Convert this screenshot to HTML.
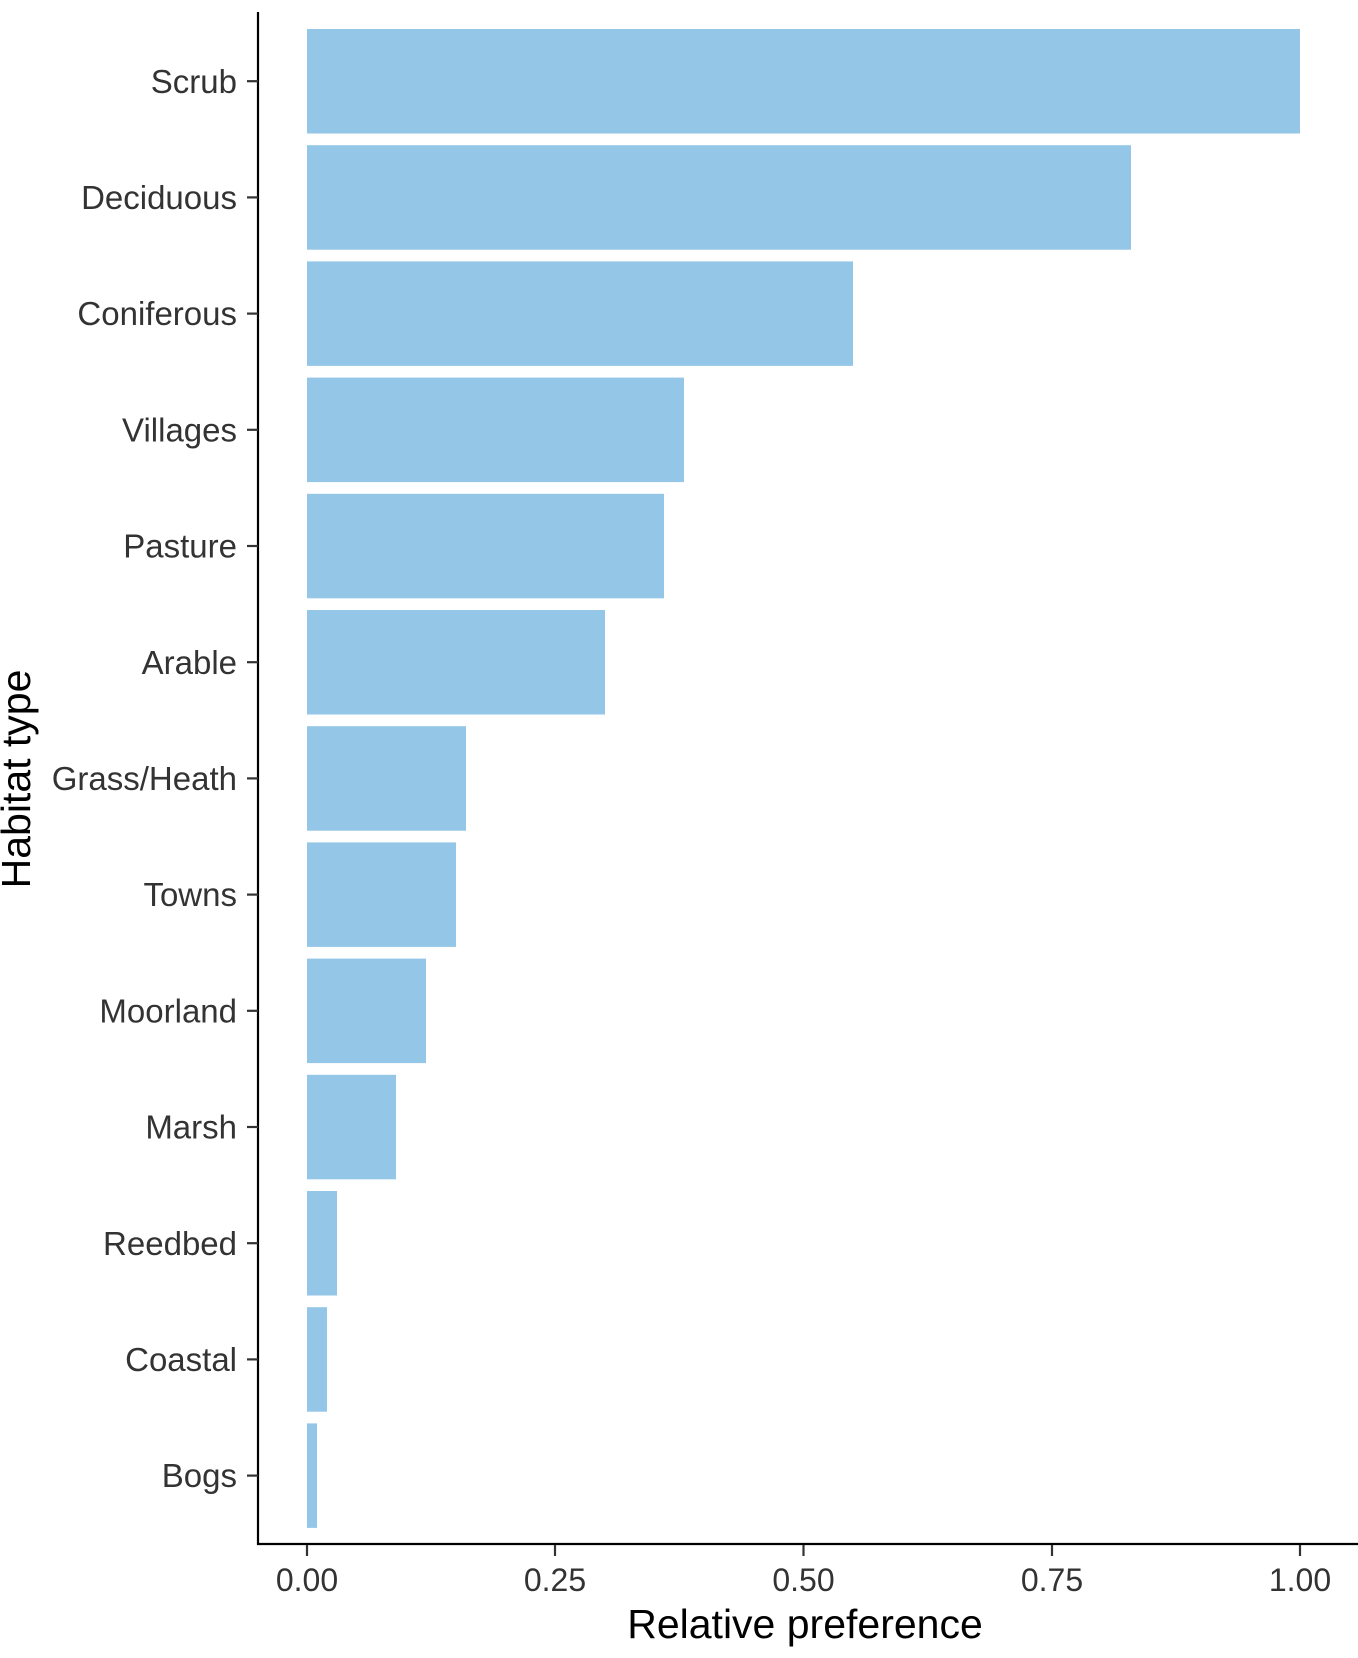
<!DOCTYPE html>
<html><head><meta charset="utf-8"><style>body{margin:0;background:#fff}</style></head><body>
<svg width="1358" height="1653" xmlns="http://www.w3.org/2000/svg" font-family="Liberation Sans, sans-serif">
<rect width="1358" height="1653" fill="#fff"/>
<g fill="#93C6E7">
<rect x="307" y="29" width="993" height="104.5"/>
<rect x="307" y="145.2" width="824" height="104.5"/>
<rect x="307" y="261.4" width="546" height="104.5"/>
<rect x="307" y="377.6" width="377" height="104.5"/>
<rect x="307" y="493.8" width="357" height="104.5"/>
<rect x="307" y="610" width="298" height="104.5"/>
<rect x="307" y="726.2" width="159" height="104.5"/>
<rect x="307" y="842.4" width="149" height="104.5"/>
<rect x="307" y="958.6" width="119" height="104.5"/>
<rect x="307" y="1074.8" width="89" height="104.5"/>
<rect x="307" y="1191" width="30" height="104.5"/>
<rect x="307" y="1307.2" width="20" height="104.5"/>
<rect x="307" y="1423.4" width="10" height="104.5"/>
</g>
<g stroke="#000" stroke-width="2.2">
<line x1="258" y1="12" x2="258" y2="1545"/>
<line x1="257" y1="1544" x2="1358" y2="1544"/>
</g>
<g stroke="#333" stroke-width="2.2">
<line x1="247" y1="81.2" x2="258" y2="81.2"/><line x1="247" y1="197.4" x2="258" y2="197.4"/><line x1="247" y1="313.6" x2="258" y2="313.6"/><line x1="247" y1="429.8" x2="258" y2="429.8"/><line x1="247" y1="546" x2="258" y2="546"/><line x1="247" y1="662.2" x2="258" y2="662.2"/><line x1="247" y1="778.4" x2="258" y2="778.4"/><line x1="247" y1="894.6" x2="258" y2="894.6"/><line x1="247" y1="1010.8" x2="258" y2="1010.8"/><line x1="247" y1="1127" x2="258" y2="1127"/><line x1="247" y1="1243.2" x2="258" y2="1243.2"/><line x1="247" y1="1359.4" x2="258" y2="1359.4"/><line x1="247" y1="1475.6" x2="258" y2="1475.6"/>
<line x1="307" y1="1545" x2="307" y2="1556"/><line x1="555" y1="1545" x2="555" y2="1556"/><line x1="803.5" y1="1545" x2="803.5" y2="1556"/><line x1="1052" y1="1545" x2="1052" y2="1556"/><line x1="1300" y1="1545" x2="1300" y2="1556"/>
</g>
<g fill="#333" font-size="33" text-anchor="end">
<text x="237" y="93">Scrub</text><text x="237" y="209">Deciduous</text><text x="237" y="325">Coniferous</text><text x="237" y="441.5">Villages</text><text x="237" y="557.5">Pasture</text><text x="237" y="674">Arable</text><text x="237" y="790">Grass/Heath</text><text x="237" y="906">Towns</text><text x="237" y="1022.5">Moorland</text><text x="237" y="1138.5">Marsh</text><text x="237" y="1255">Reedbed</text><text x="237" y="1371">Coastal</text><text x="237" y="1487">Bogs</text>
</g>
<g fill="#333" font-size="32" text-anchor="middle">
<text x="307" y="1591">0.00</text><text x="555" y="1591">0.25</text><text x="803.5" y="1591">0.50</text><text x="1052" y="1591">0.75</text><text x="1300" y="1591">1.00</text>
</g>
<text x="805" y="1638" font-size="41" text-anchor="middle" fill="#000">Relative preference</text>
<text transform="translate(30,779) rotate(-90)" font-size="41" text-anchor="middle" fill="#000">Habitat type</text>
</svg>
</body></html>
